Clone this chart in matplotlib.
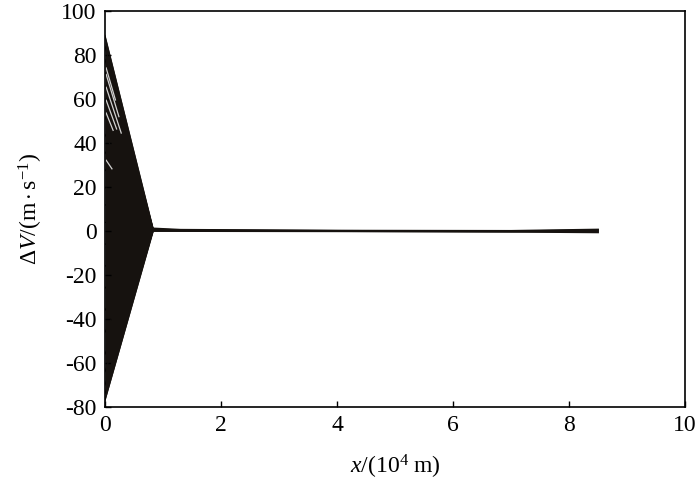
import matplotlib
matplotlib.use('Agg')
import matplotlib.pyplot as plt

plt.rcParams['font.family'] = 'Liberation Serif'
plt.rcParams['mathtext.fontset'] = 'custom'
plt.rcParams['mathtext.rm'] = 'Liberation Serif'
plt.rcParams['mathtext.it'] = 'Liberation Serif:italic'
plt.rcParams['axes.unicode_minus'] = False

# fan of curves: start value at x=0, all meet near x_apex
x_apex = 0.83
fan_start = [89, 84, 78, 72, 66, 60, 52, 44, 36, 28, 20, 12, 4,
             -6, -16, -26, -36, -46, -56, -64, -70, -74, -77]
apex_vals = [1.2, 1.0, 0.9, 0.8, 0.6, 0.5, 0.4, 0.3, 0.2, 0.1, 0.0, -0.1, -0.2]

# light streaks inside the fan (start value, x where it fades)
streak_start = [76, 73, 67, 61, 55, 33]
streak_end_x = [0.18, 0.24, 0.28, 0.20, 0.14, 0.12]

# tail after the fan
tail_x = [0.83, 1.3, 4.0, 7.0, 8.5]
tail_vals = [
    [1.2, 0.6, 0.2, 0.1, 0.7],
    [0.8, 0.4, 0.1, -0.1, 0.4],
    [0.4, 0.2, 0.0, -0.2, -0.2],
    [0.0, 0.0, -0.1, -0.3, -0.6],
]

fig = plt.figure(figsize=(7, 4.86), dpi=100)
ax = fig.add_axes([0.15, 0.1626, 0.8286, 0.8144])

ax.fill_between([0, x_apex], [max(fan_start), max(apex_vals)],
                [min(fan_start), min(apex_vals)], color='#16120f', lw=0)
for i, v in enumerate(fan_start):
    a = apex_vals[i % len(apex_vals)]
    ax.plot([0, x_apex], [v, a], color='#16120f', lw=0.8)

for v, xe in zip(streak_start, streak_end_x):
    ye = v + (0.5 - v) * xe / x_apex
    ax.plot([0.02, xe], [v + (0.5 - v) * 0.02 / x_apex, ye],
            color='#f4f4f4', lw=0.9, alpha=0.85)

for vals in tail_vals:
    ax.plot(tail_x, vals, color='#16120f', lw=1.3)

ax.set_xlim(0, 10)
ax.set_ylim(-80, 100)
ax.set_xticks([0, 2, 4, 6, 8, 10])
ax.set_yticks(range(-80, 101, 20))
ax.tick_params(direction='in', length=4, width=1, labelsize=17,
               top=False, right=False, pad=6)
for s in ax.spines.values():
    s.set_linewidth(1.2)

ax.set_xlabel(r'$x\mathrm{/(10^4\ m)}$', fontsize=17, labelpad=12)
ax.set_ylabel(r'$\Delta V\mathrm{/(m\cdot s^{-1})}$', fontsize=17, labelpad=12)

fig.savefig('out.png', dpi=100)
